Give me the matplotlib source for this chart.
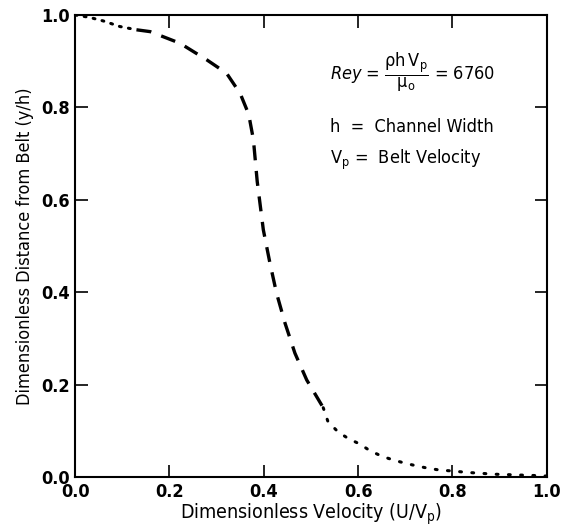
import matplotlib
matplotlib.use("Agg")
import matplotlib.pyplot as plt

plt.rcParams['font.family'] = ['DejaVu Sans']
plt.rcParams['font.stretch'] = 'condensed'

## données lues sur la figure
# bout dotted près de la paroi
x_haut = [0.0, 0.03, 0.06, 0.095, 0.13]
y_haut = [1.0, 0.995, 0.987, 0.975, 0.968]
# partie dashed
x_mil = [0.13, 0.159, 0.222, 0.279, 0.321, 0.35, 0.368, 0.378, 0.386, 0.399,
         0.413, 0.427, 0.445, 0.466, 0.491, 0.526]
y_mil = [0.968, 0.964, 0.939, 0.903, 0.874, 0.83, 0.785, 0.73, 0.64, 0.535,
         0.463, 0.398, 0.333, 0.268, 0.21, 0.15]
# bout dotted côté bas
x_bas = [0.526, 0.536, 0.557, 0.578, 0.604, 0.625, 0.65, 0.674, 0.699, 0.724,
         0.748, 0.773, 0.8, 0.83, 0.86, 0.89, 0.92, 0.95, 0.98, 1.0]
y_bas = [0.15, 0.12, 0.098, 0.084, 0.071, 0.057, 0.045, 0.037, 0.03, 0.024,
         0.019, 0.015, 0.013, 0.01, 0.008, 0.006, 0.005, 0.004, 0.003, 0.002]

ticks = [0.0, 0.2, 0.4, 0.6, 0.8, 1.0]

fig = plt.figure(figsize=(5.78, 5.28), dpi=100)
ax = fig.add_axes([0.13, 0.0966, 0.816, 0.875])

ax.plot(x_haut, y_haut, color='black', lw=2.2, ls=(0, (0.6, 2.4)), dash_capstyle='round')
ax.plot(x_mil, y_mil, color='black', lw=2.4, ls=(0, (4.5, 3.2)))
ax.plot(x_bas, y_bas, color='black', lw=2.2, ls=(0, (0.6, 3.4)), dash_capstyle='round')

ax.set_xlim(0, 1)
ax.set_ylim(0, 1)
ax.set_xticks(ticks)
ax.set_yticks(ticks)
ax.set_xticklabels(['0.0', '0.2', '0.4', '0.6', '0.8', '1.0'], fontsize=13, fontweight='bold')
ax.set_yticklabels(['0.0', '0.2', '0.4', '0.6', '0.8', '1.0'], fontsize=13, fontweight='bold')
ax.tick_params(direction='in', length=9, width=1.2, top=True, right=True, pad=4)
for s in ax.spines.values():
    s.set_linewidth(1.5)

ax.set_xlabel('Dimensionless Velocity (U/V$_\\mathrm{p}$)', fontsize=14, labelpad=1)
ax.set_ylabel('Dimensionless Distance from Belt (y/h)', fontsize=13, labelpad=5)

ax.text(0.54, 0.877, r'$\mathit{Rey}$ = $\dfrac{\mathrm{\rho h\,V_p}}{\mathrm{\mu_o}}$ = $\mathit{6760}$',
        fontsize=13, va='center', ha='left')
ax.text(0.54, 0.758, 'h  =  Channel Width', fontsize=13, va='center', ha='left')
ax.text(0.54, 0.686, 'V$_\\mathrm{p}$ =  Belt Velocity', fontsize=13, va='center', ha='left')

fig.savefig('out.png', dpi=100)
